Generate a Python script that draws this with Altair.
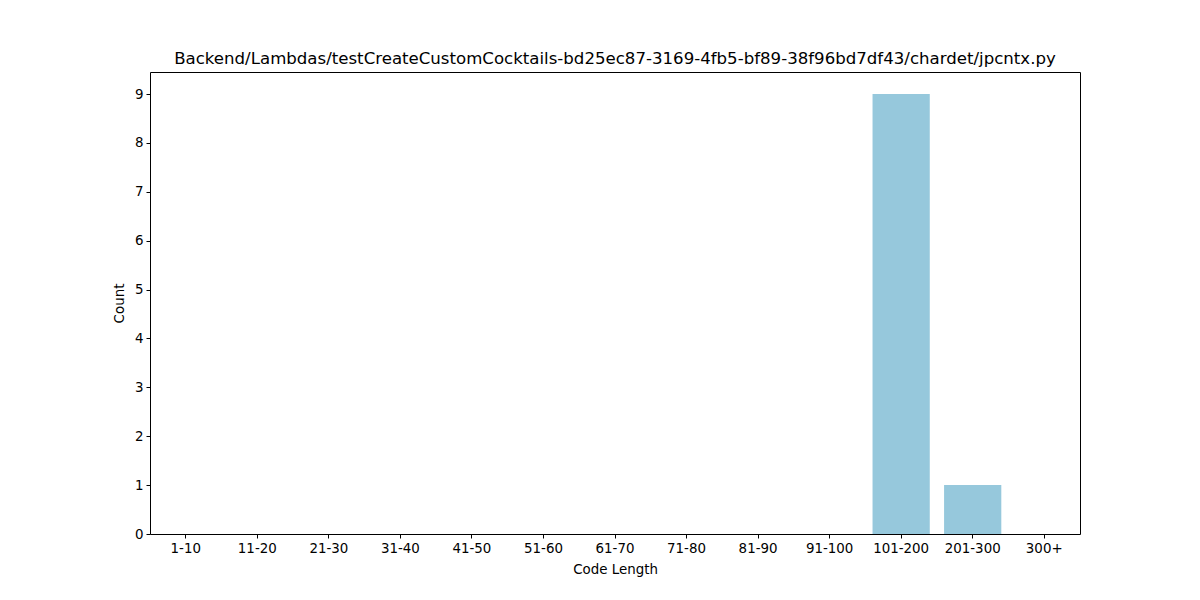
import altair as alt
import pandas as pd

categories = ["1-10", "11-20", "21-30", "31-40", "41-50", "51-60", "61-70",
              "71-80", "81-90", "91-100", "101-200", "201-300", "300+"]
counts = [0, 0, 0, 0, 0, 0, 0, 0, 0, 0, 9, 1, 0]

df = pd.DataFrame({"cat": categories, "count": counts})

font = "DejaVu Sans"
fs = 13.4

chart = alt.Chart(df).mark_bar(color="#96C8DC").encode(
    x=alt.X("cat:N", sort=categories,
            scale=alt.Scale(paddingInner=0.2, paddingOuter=0.1),
            axis=alt.Axis(title="Code Length", labelAngle=0, labelFont=font,
                          labelFontSize=fs, titleFont=font, titleFontSize=fs,
                          titleFontWeight="normal", labelColor="black",
                          titleColor="black", domain=False, tickColor="black",
                          tickSize=4, labelPadding=3, titlePadding=8)),
    y=alt.Y("count:Q", scale=alt.Scale(domain=[0, 9.45], nice=False),
            axis=alt.Axis(title="Count", values=list(range(10)), grid=False,
                          labelFont=font, labelFontSize=fs, titleFont=font,
                          titleFontSize=fs, titleFontWeight="normal",
                          labelColor="black", titleColor="black", domain=False,
                          tickColor="black", tickSize=4, labelPadding=3,
                          titlePadding=8)),
).properties(
    width=930, height=462,
    title=alt.TitleParams(
        "Backend/Lambdas/testCreateCustomCocktails-bd25ec87-3169-4fb5-bf89-38f96bd7df43/chardet/jpcntx.py",
        font=font, fontSize=16.6, fontWeight="normal", color="black", offset=4),
    autosize="none",
    padding={"left": 150, "top": 72, "right": 120, "bottom": 66},
).configure_view(stroke="black", strokeWidth=1)

chart.save("out.html", embed_options={"renderer": "svg", "actions": False})
